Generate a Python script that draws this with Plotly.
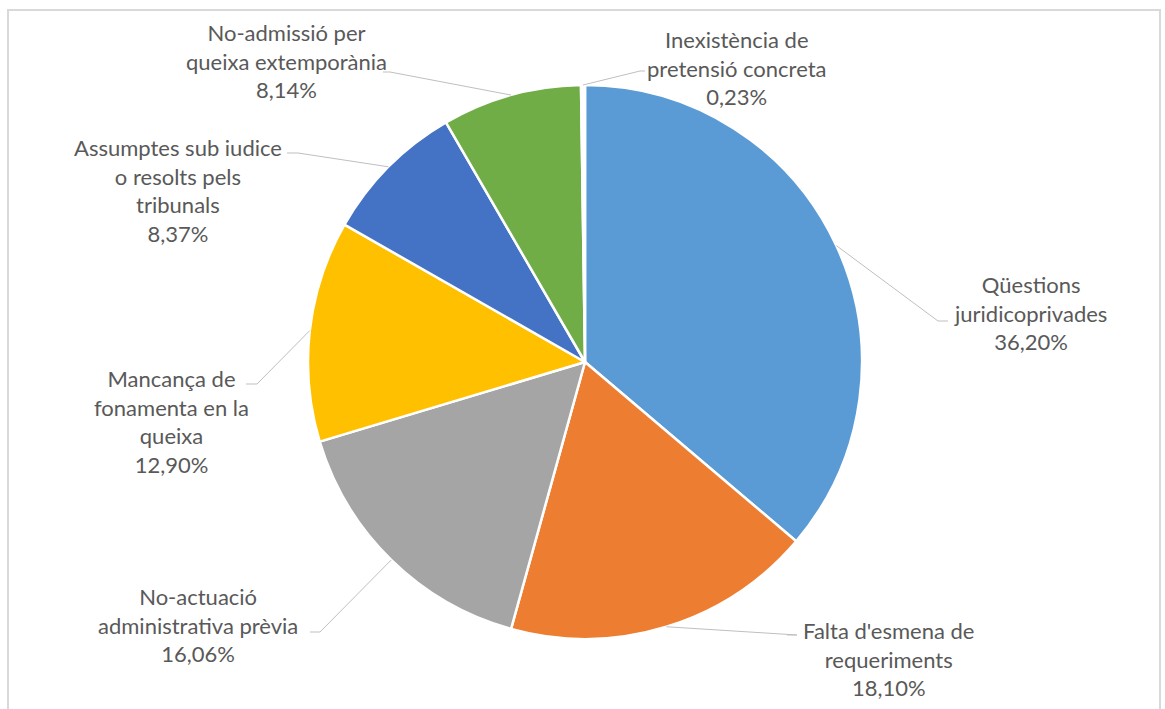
import math
import plotly.graph_objects as go

# Categories, shares (%) and slice colours, in clockwise order from 12 o'clock
categories = [
    "Qüestions<br>juridicoprivades",
    "Falta d'esmena de<br>requeriments",
    "No-actuació<br>administrativa prèvia",
    "Mancança de<br>fonamenta en la<br>queixa",
    "Assumptes sub iudice<br>o resolts pels<br>tribunals",
    "No-admissió per<br>queixa extemporània",
    "Inexistència de<br>pretensió concreta",
]
shares = [36.20, 18.10, 16.06, 12.90, 8.37, 8.14, 0.23]
colors = ["#5B9BD5", "#ED7D31", "#A5A5A5", "#FFC000", "#4472C4", "#70AD47", "#FFFFFF"]

# Label placement (pixel centre of text block, elbow point of leader line)
label_pos = [(1030, 313), (888, 659), (198, 625), (171, 421), (178, 190), (286, 61), (737, 68)]
elbow_pos = [(938, 321), (797, 635), (320, 632), (257, 384), (298, 153), (390, 72), (640, 71)]
elbow_end = [(948, 321), (787, 635), (310, 632), (246, 384), (287, 153), (383, 72), (645, 71)]

W, H = 1165, 709
CX, CY, R = 585, 362, 277

def px(x, y):
    return x / W, 1 - y / H

fig = go.Figure(go.Pie(
    labels=[c.replace("<br>", " ") for c in categories],
    values=shares,
    sort=False,
    direction="clockwise",
    rotation=0,
    marker=dict(colors=colors, line=dict(color="white", width=2.5)),
    textinfo="none",
    hoverinfo="label+percent",
    domain=dict(x=[(CX - R) / W, (CX + R) / W], y=[1 - (CY + R) / H, 1 - (CY - R) / H]),
    showlegend=False,
))

shapes = []
annotations = []
total = sum(shares)
cum = 0.0
for cat, val, lp, ep, ee in zip(categories, shares, label_pos, elbow_pos, elbow_end):
    mid = (cum + val / 2) / total * 2 * math.pi
    cum += val
    sx = CX + R * math.sin(mid)
    sy = CY - R * math.cos(mid)
    x0, y0 = px(sx, sy)
    x1, y1 = px(*ep)
    x2, y2 = px(*ee)
    shapes.append(dict(type="path", xref="paper", yref="paper",
                       path=f"M {x0} {y0} L {x1} {y1} L {x2} {y2}",
                       line=dict(color="#BFBFBF", width=1)))
    tx, ty = px(*lp)
    annotations.append(dict(
        x=tx, y=ty, xref="paper", yref="paper",
        text=f"{cat}<br>{val:.2f}%".replace(".", ","),
        showarrow=False, align="center", xanchor="center", yanchor="middle",
        font=dict(family="Lato", size=22, color="#595959"),
    ))

# Chart area frame
fx0, fy0 = px(8, 10)
fx1, fy1 = px(1160, 730)
shapes.append(dict(type="rect", xref="paper", yref="paper", x0=fx0, y0=fy1, x1=fx1, y1=fy0,
                   line=dict(color="#D9D9D9", width=2), fillcolor="rgba(0,0,0,0)", layer="below"))

fig.update_layout(
    width=W, height=H,
    margin=dict(l=0, r=0, t=0, b=0),
    paper_bgcolor="white",
    plot_bgcolor="white",
    shapes=shapes,
    annotations=annotations,
)

fig.write_html("out.html")
